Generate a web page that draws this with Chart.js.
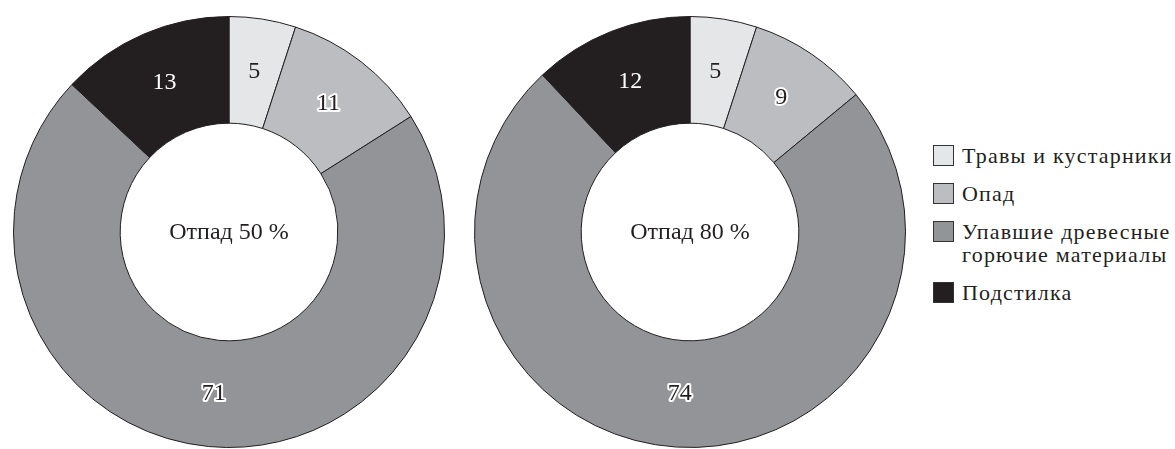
<!DOCTYPE html>
<html>
<head>
  <title>Отпад</title>
  <style>
    body {
      margin: 0;
      padding: 0;
      background-color: #fff;
      font-family: "Liberation Serif", "Times New Roman", serif;
    }
    .wrap {
      position: relative;
      width: 1175px;
      height: 449px;
    }
    .chart {
      position: absolute;
      top: 0;
      width: 458px;
      height: 449px;
    }
    .legend {
      position: absolute;
      left: 933px;
      top: 144px;
      font-size: 22px;
      letter-spacing: 1.2px;
      line-height: 23px;
      color: #231f20;
      white-space: nowrap;
    }
    .legend .item {
      position: relative;
      padding-left: 29px;
      margin-bottom: 15px;
    }
    .legend .box {
      position: absolute;
      left: 0;
      top: 1px;
      width: 19px;
      height: 19px;
      border: 1px solid #333;
    }
  </style>
</head>
<body>

<div class="wrap">
  <div class="chart" style="left:0"><canvas id="chart50"></canvas></div>
  <div class="chart" style="left:461px"><canvas id="chart80"></canvas></div>
  <div class="legend" id="legend"></div>
</div>

<script src="https://cdn.jsdelivr.net/npm/chart.js"></script>
<script>
  // категории горючих материалов
  const categories = ['Травы и кустарники', 'Опад', 'Упавшие древесные горючие материалы', 'Подстилка'];
  const legendLines = [['Травы и кустарники'], ['Опад'], ['Упавшие древесные', 'горючие материалы'], ['Подстилка']];
  const colors = ['#e5e6e8', '#bcbdc0', '#939497', '#231f20'];

  // доли, %
  const values50 = [5, 11, 71, 13];
  const values80 = [5, 9, 74, 12];

  const centerTitles = ['Отпад 50 %', 'Отпад 80 %'];

  // стиль подписи для каждого сектора: 'dark', 'light', 'outline'
  const labelStyle = ['dark', 'outline', 'outline', 'light'];

  const segmentLabels = {
    id: 'segmentLabels',
    afterDatasetsDraw(chart, args, opts) {
      const ctx = chart.ctx;
      const meta = chart.getDatasetMeta(0);
      const data = chart.data.datasets[0].data;
      ctx.save();
      ctx.font = '24px "Liberation Serif", "Times New Roman", serif';
      ctx.textAlign = 'center';
      ctx.textBaseline = 'middle';
      meta.data.forEach((arc, i) => {
        const p = arc.tooltipPosition();
        const txt = String(data[i]);
        const s = labelStyle[i];
        if (s === 'outline') {
          ctx.lineJoin = 'round';
          ctx.lineWidth = 4;
          ctx.strokeStyle = '#fff';
          ctx.strokeText(txt, p.x, p.y);
          ctx.fillStyle = '#231f20';
          ctx.fillText(txt, p.x, p.y);
        } else {
          ctx.fillStyle = s === 'light' ? '#fff' : '#231f20';
          ctx.fillText(txt, p.x, p.y);
        }
      });
      // подпись в центре
      const c = meta.data[0];
      ctx.fillStyle = '#231f20';
      ctx.fillText(opts.title, c.x, c.y + 1);
      ctx.restore();
    }
  };

  function createChart(canvasId, values, title) {
    const ctx = document.getElementById(canvasId).getContext('2d');
    return new Chart(ctx, {
      type: 'doughnut',
      data: {
        labels: categories,
        datasets: [{
          data: values,
          backgroundColor: colors,
          borderColor: '#231f20',
          borderWidth: 1
        }]
      },
      options: {
        responsive: true,
        maintainAspectRatio: false,
        animation: false,
        cutout: '50.5%',
        layout: { padding: { top: 16, bottom: 1, left: 0, right: 0 } },
        plugins: {
          legend: { display: false },
          tooltip: { enabled: false },
          segmentLabels: { title: title }
        }
      },
      plugins: [segmentLabels]
    });
  }

  createChart('chart50', values50, centerTitles[0]);
  createChart('chart80', values80, centerTitles[1]);

  // легенда
  const legend = document.getElementById('legend');
  legendLines.forEach((lines, i) => {
    const item = document.createElement('div');
    item.className = 'item';
    const box = document.createElement('span');
    box.className = 'box';
    box.style.backgroundColor = colors[i];
    item.appendChild(box);
    lines.forEach((l, j) => {
      if (j > 0) item.appendChild(document.createElement('br'));
      item.appendChild(document.createTextNode(l));
    });
    legend.appendChild(item);
  });
</script>

</body>
</html>
